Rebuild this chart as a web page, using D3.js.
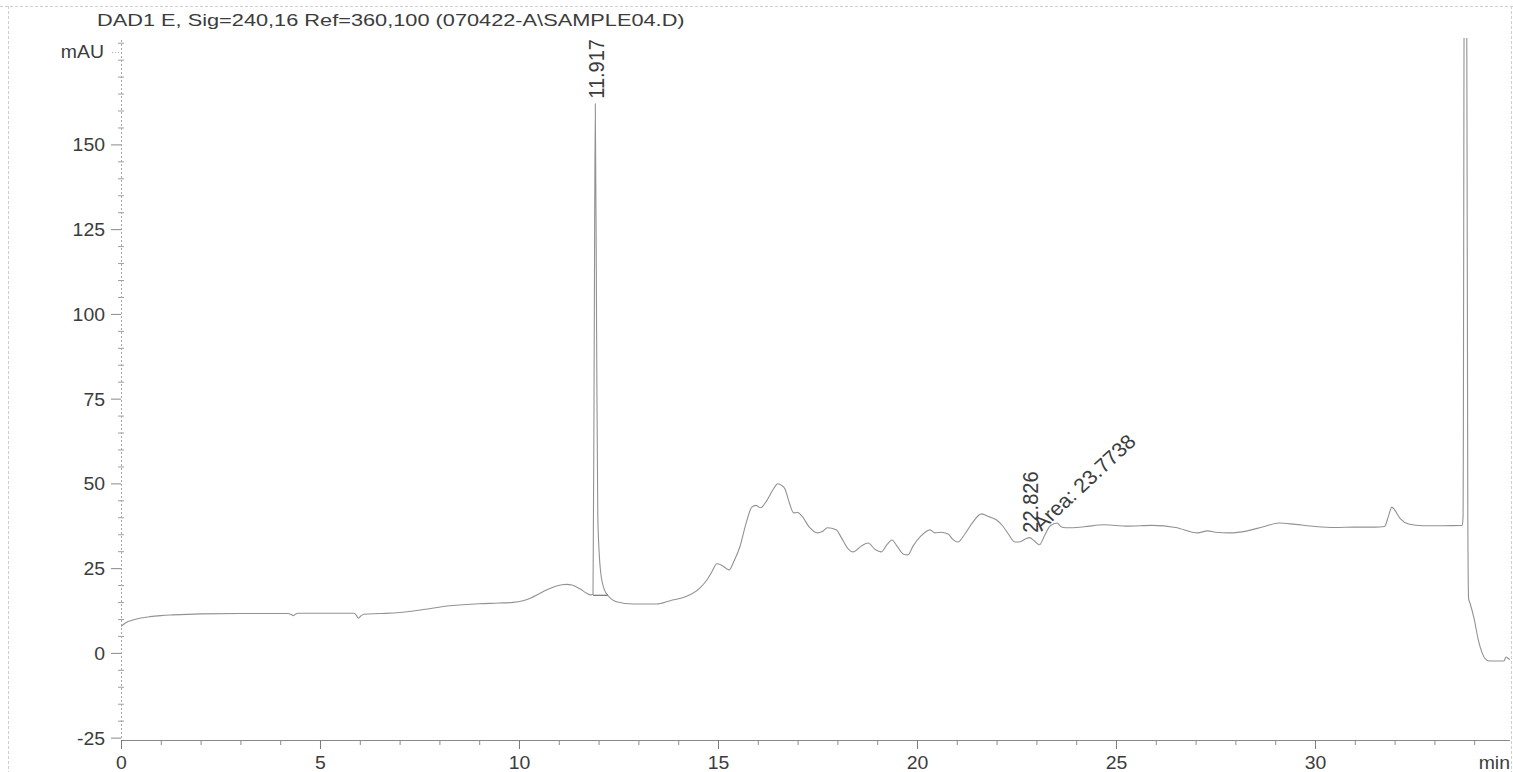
<!DOCTYPE html>
<html>
<head>
<meta charset="utf-8">
<script src="https://cdn.jsdelivr.net/npm/d3@7"></script>
<style>
  body { margin: 0; background: #fff; }
  svg { display: block; }
  text { font-family: "Liberation Sans", Arial, sans-serif; fill: #3c3c3c; }
</style>
</head>
<body>
<svg id="chart" width="1513" height="772"></svg>
<script>
// Signal trace: retention time (min) and detector response (mAU)
const times = [
  0, 0.12, 0.3, 0.5, 0.73, 1.0, 1.3, 2.0, 3.0, 4.2, 4.28, 4.33, 4.38, 4.45, 5.0,
  5.85, 5.92, 5.96, 6.02, 6.1, 6.5, 7.0, 7.6, 8.27, 9.0, 9.5, 9.85, 10.1, 10.3, 10.5,
  10.7, 10.9, 11.08, 11.2, 11.33, 11.53, 11.7, 11.8, 11.86, 11.89, 11.917, 11.95, 11.98,
  12.05, 12.15, 12.23, 12.45, 12.87, 13.46, 13.8, 14.2, 14.55, 14.72, 14.85, 14.97,
  15.1, 15.28, 15.4, 15.55, 15.7, 15.85, 15.95, 16.07, 16.23, 16.4, 16.5, 16.6, 16.68,
  16.8, 16.9, 17.0, 17.1, 17.3, 17.5, 17.62, 17.75, 17.97, 18.1, 18.25, 18.4, 18.6,
  18.77, 18.95, 19.1, 19.25, 19.37, 19.5, 19.65, 19.77, 19.9, 20.1, 20.33, 20.45, 20.6,
  20.78, 20.9, 21.03, 21.2, 21.4, 21.62, 21.8, 22.0, 22.15, 22.3, 22.46, 22.6, 22.72,
  22.826, 22.95, 23.08, 23.2, 23.35, 23.52, 23.62, 23.74, 24.2, 24.7, 25.3, 25.9, 26.5,
  27.05, 27.3, 27.5, 27.85, 28.3, 28.7, 29.1, 29.5, 30.0, 30.5, 31.0, 31.5, 31.75,
  31.85, 31.93, 32.0, 32.15, 32.35, 32.7, 33.2, 33.7, 33.72, 33.76, 33.8, 33.84, 33.86,
  33.9, 34.0, 34.1, 34.2, 34.28, 34.38, 34.75, 34.8, 34.84, 34.9
];
const signal = [
  7.8, 8.9, 9.7, 10.3, 10.7, 11.0, 11.2, 11.5, 11.6, 11.6, 11.3, 11.0, 11.4, 11.7, 11.7,
  11.7, 11.0, 10.2, 10.8, 11.4, 11.6, 11.9, 12.8, 13.9, 14.5, 14.7, 14.9, 15.4, 16.2, 17.4,
  18.6, 19.6, 20.1, 20.2, 20.0, 18.9, 17.6, 17.1, 17.3, 90, 162, 95, 40,
  24, 18.5, 17.0, 15.1, 14.4, 14.4, 15.4, 16.6, 19.2, 21.5, 24.0, 26.3,
  25.8, 24.5, 27.0, 31.3, 38.0, 43.0, 43.5, 42.8, 45.0, 48.5, 49.9, 49.4, 48.4,
  44.0, 41.3, 41.4, 40.5, 37.0, 35.4, 35.8, 36.9, 36.3, 34.0, 31.0, 29.8, 31.5,
  32.4, 30.5, 29.8, 32.0, 33.3, 31.5, 29.2, 28.9, 31.5, 34.5, 36.3, 35.4, 35.6,
  35.1, 33.5, 32.7, 35.0, 38.5, 41.0, 40.2, 39.2, 37.5, 35.0, 32.7, 32.8, 33.6,
  34.0, 33.0, 31.9, 34.5, 37.5, 38.3, 37.2, 36.9, 37.2, 37.8, 37.4, 37.6, 37.0,
  35.4, 36.0, 35.6, 35.4, 36.0, 37.2, 38.3, 37.9, 37.3, 37.0, 37.1, 37.1, 37.3,
  40.5, 43.0, 42.2, 39.5, 38.0, 37.5, 37.5, 37.6, 40, 250, 250, 40, 16,
  14.5, 10, 4, 0, -1.8, -2.4, -2.4, -1.2, -1.5, -2.0
];

// Integrated peaks
const peakTimes = [11.917, 22.826];
const peakAreas = [null, 23.7738];
const peakBaseStart = [11.86];
const peakBaseEnd = [12.23];
const peakBaseLevel = [17.0];

// Axis ticks
const yTickValues = [-25, 0, 25, 50, 75, 100, 125, 150];
const xTickValues = [0, 5, 10, 15, 20, 25, 30];
const yMinorStep = 5;
const xMinorStep = 1;

const titleText = "DAD1 E, Sig=240,16 Ref=360,100 (070422-A\\SAMPLE04.D)";
const yUnit = "mAU";
const xUnit = "min";

// ---------- layout ----------
const svg = d3.select("#chart");
const plotLeft = 121, plotRight = 1510, plotTop = 40, plotBottom = 740;
const SX = 1.08;          // horizontal stretch of the print font
const FS = 18;
const PEAK_FS = 20;

const x = d3.scaleLinear().domain([0, 34.9]).range([plotLeft, plotRight]);
const y = d3.scaleLinear().domain([-25.7, 180.8]).range([plotBottom, plotTop]);
const plainNum = d => String(d);

// page frame
const frame = svg.append("g").attr("stroke", "#cfcfcf").attr("stroke-width", 1)
  .attr("stroke-dasharray", "3,2").attr("fill", "none");
frame.append("line").attr("x1", 0).attr("x2", 1513).attr("y1", 6.5).attr("y2", 6.5);
frame.append("line").attr("x1", 8.5).attr("x2", 8.5).attr("y1", 6).attr("y2", 772);
frame.append("line").attr("x1", 1511.5).attr("x2", 1511.5).attr("y1", 6).attr("y2", 772);

// title
svg.append("text")
  .attr("transform", `translate(97,26) scale(1.28,1)`)
  .attr("font-size", 17)
  .text(titleText);

// ---------- y axis ----------
const yMinor = d3.range(-25, 181, yMinorStep).filter(v => !yTickValues.includes(v));
svg.append("g")
  .attr("transform", `translate(${plotLeft + 3},0)`)
  .call(d3.axisLeft(y).tickValues(yMinor).tickSize(6).tickSizeOuter(0).tickFormat(""))
  .call(g => g.select(".domain").remove())
  .call(g => g.selectAll(".tick line").attr("stroke", "#a0a0a0"));

const yAxisG = svg.append("g")
  .attr("transform", `translate(${plotLeft},0)`)
  .call(d3.axisLeft(y).tickValues(yTickValues).tickFormat(plainNum).tickSize(10).tickSizeOuter(0));
yAxisG.select(".domain").attr("stroke", "#a8a8a8").attr("stroke-dasharray", "2,2")
  .attr("d", `M0.5,${plotTop}V${plotBottom}`);
yAxisG.selectAll(".tick line").attr("stroke", "#8a8a8a");
yAxisG.selectAll(".tick text")
  .attr("x", null).attr("dy", null)
  .attr("text-anchor", "end")
  .attr("font-size", FS)
  .attr("font-family", "Liberation Sans, Arial, sans-serif")
  .attr("fill", "#3c3c3c")
  .attr("transform", `translate(-16,6.5) scale(${SX},1)`);

svg.append("text")
  .attr("transform", `translate(104,58) scale(${SX},1)`)
  .attr("text-anchor", "end")
  .attr("font-size", FS)
  .text(yUnit);
svg.append("line").attr("x1", 112).attr("x2", 120).attr("y1", 52.5).attr("y2", 52.5)
  .attr("stroke", "#b0b0b0").attr("stroke-dasharray", "1,2");

// ---------- x axis ----------
const xMinor = d3.range(0, 35, xMinorStep).filter(v => !xTickValues.includes(v));
svg.append("g")
  .attr("transform", `translate(0,${plotBottom})`)
  .call(d3.axisBottom(x).tickValues(xMinor).tickSize(5).tickSizeOuter(0).tickFormat(""))
  .call(g => g.select(".domain").remove())
  .call(g => g.selectAll(".tick line").attr("stroke", "#8a8a8a"));

const xAxisG = svg.append("g")
  .attr("transform", `translate(0,${plotBottom})`)
  .call(d3.axisBottom(x).tickValues(xTickValues).tickFormat(plainNum).tickSize(9).tickSizeOuter(0));
xAxisG.select(".domain").attr("stroke", "#8a8a8a")
  .attr("d", `M${plotLeft},0.5H${plotRight}`);
xAxisG.selectAll(".tick line").attr("stroke", "#7a7a7a");
xAxisG.selectAll(".tick text")
  .attr("y", null).attr("dy", null)
  .attr("font-size", FS)
  .attr("font-family", "Liberation Sans, Arial, sans-serif")
  .attr("fill", "#3c3c3c")
  .attr("transform", `translate(0,29) scale(${SX},1)`);

svg.append("text")
  .attr("transform", `translate(1510,769) scale(${SX},1)`)
  .attr("text-anchor", "end")
  .attr("font-size", FS)
  .text(xUnit);

// ---------- trace ----------
svg.append("clipPath").attr("id", "plotClip")
  .append("rect").attr("x", plotLeft).attr("y", plotTop - 2)
  .attr("width", plotRight - plotLeft).attr("height", plotBottom - plotTop + 2);

const points = times.map((t, i) => [t, signal[i]]);
svg.append("path")
  .datum(points)
  .attr("clip-path", "url(#plotClip)")
  .attr("fill", "none")
  .attr("stroke", "#929292")
  .attr("stroke-width", 1.1)
  .attr("d", d3.line().x(d => x(d[0])).y(d => y(d[1])).curve(d3.curveMonotoneX));

// integration baselines
peakBaseStart.forEach((s, i) => {
  svg.append("line")
    .attr("x1", x(s)).attr("x2", x(peakBaseEnd[i]))
    .attr("y1", y(peakBaseLevel[i])).attr("y2", y(peakBaseLevel[i]))
    .attr("stroke", "#555").attr("stroke-width", 1);
});

// ---------- peak annotations ----------
const valueAt = t => signal[times.indexOf(t)];
peakTimes.forEach((t, i) => {
  const px = x(t), py = y(valueAt(t));
  svg.append("text")
    .attr("transform", `translate(${px + 9},${py - 5}) scale(${SX},1) rotate(-90)`)
    .attr("font-size", PEAK_FS)
    .text(t.toFixed(3));
  if (peakAreas[i] !== null) {
    svg.append("text")
      .attr("transform", `translate(${px + 12},${py - 6}) scale(${SX},1) rotate(-45)`)
      .attr("font-size", PEAK_FS)
      .text(`Area: ${peakAreas[i]}`);
  }
});
</script>
</body>
</html>
